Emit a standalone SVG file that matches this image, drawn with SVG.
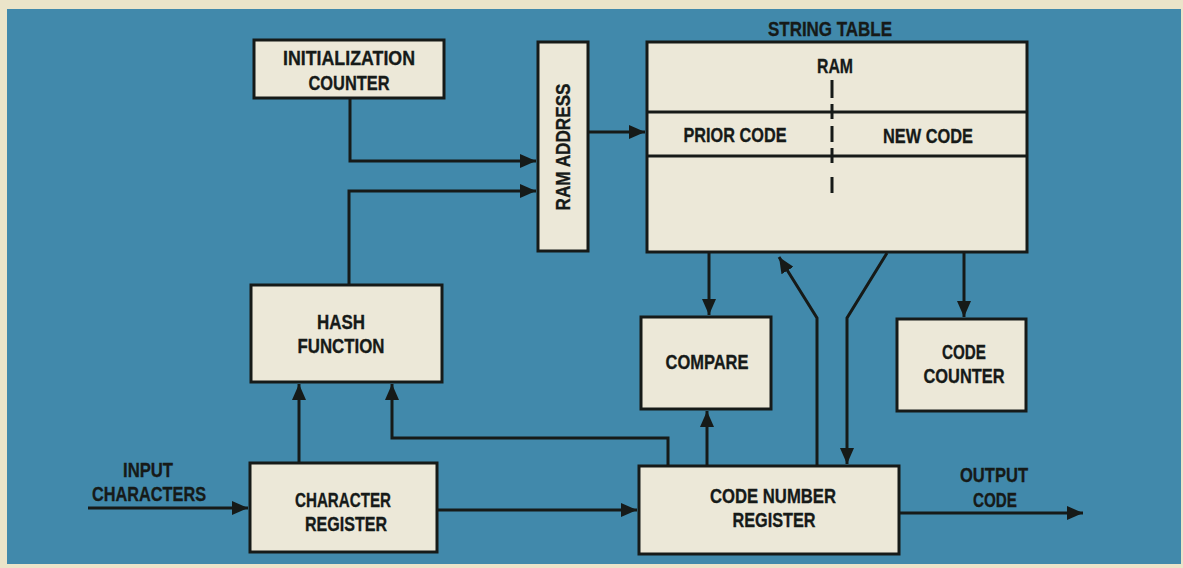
<svg xmlns="http://www.w3.org/2000/svg" width="1183" height="568" viewBox="0 0 1183 568">
  <style>
    .box { fill: #ece8d8; stroke: #161a18; stroke-width: 3; }
    .ln { fill: none; stroke: #161a18; stroke-width: 3; }
    .t { font-family: "Liberation Sans Narrow", "Liberation Sans", Arial, sans-serif; font-weight: bold; font-size: 21px; fill: #161a18; stroke: #161a18; stroke-width: 0.35; text-anchor: middle; }
  </style>
  <defs>
    <marker id="ah" viewBox="0 0 16 14" refX="16" refY="7" markerWidth="16" markerHeight="14" markerUnits="userSpaceOnUse" orient="auto">
      <path d="M0,0 L16,7 L0,14 Z" fill="#161a18"/>
    </marker>
  </defs>
  <rect x="0" y="0" width="1183" height="568" fill="#ebe4c9"/>
  <rect x="7" y="9" width="1174" height="555" fill="#4189ab"/>

  <g id="connectors">
    <polyline class="ln" points="350,98 350,161 536,161" marker-end="url(#ah)"/>
    <polyline class="ln" points="349,285 349,191 536,191" marker-end="url(#ah)"/>
    <line class="ln" x1="589" y1="132" x2="645" y2="132" marker-end="url(#ah)"/>
    <line class="ln" x1="299" y1="463" x2="299" y2="384" marker-end="url(#ah)"/>
    <polyline class="ln" points="668,466 668,438 392,438 392,384" marker-end="url(#ah)"/>
    <line class="ln" x1="88" y1="508" x2="248" y2="508" marker-end="url(#ah)"/>
    <line class="ln" x1="437" y1="510" x2="637" y2="510" marker-end="url(#ah)"/>
    <line class="ln" x1="709" y1="252" x2="709" y2="315" marker-end="url(#ah)"/>
    <line class="ln" x1="707" y1="466" x2="707" y2="411" marker-end="url(#ah)"/>
    <polyline class="ln" points="817,466 817,318 779,257" marker-end="url(#ah)"/>
    <polyline class="ln" points="887,253 847,318 847,464" marker-end="url(#ah)"/>
    <line class="ln" x1="964" y1="252" x2="964" y2="317" marker-end="url(#ah)"/>
    <line class="ln" x1="899" y1="513" x2="1083" y2="513" marker-end="url(#ah)"/>
  </g>

  <g id="init-counter">
    <rect class="box" x="254" y="40" width="190" height="58"/>
    <text class="t" x="349" y="65" textLength="132" lengthAdjust="spacingAndGlyphs">INITIALIZATION</text>
    <text class="t" x="349" y="90" textLength="81" lengthAdjust="spacingAndGlyphs">COUNTER</text>
  </g>

  <g id="ram-address">
    <rect class="box" x="538" y="42" width="50" height="209"/>
    <text class="t" transform="translate(570,147) rotate(-90)" x="0" y="0" textLength="127" lengthAdjust="spacingAndGlyphs">RAM ADDRESS</text>
  </g>

  <g id="string-table">
    <text class="t" x="830" y="36" textLength="124" lengthAdjust="spacingAndGlyphs">STRING TABLE</text>
    <rect class="box" x="647" y="42" width="380" height="210"/>
    <line class="ln" x1="647" y1="112" x2="1027" y2="112"/>
    <line class="ln" x1="647" y1="156" x2="1027" y2="156"/>
    <path class="ln" d="M832,80 V98 M832,104 V119 M832,126 V142 M832,148 V163 M832,177 V193"/>
    <text class="t" x="835" y="73" textLength="36" lengthAdjust="spacingAndGlyphs">RAM</text>
    <text class="t" x="735" y="142" textLength="103" lengthAdjust="spacingAndGlyphs">PRIOR CODE</text>
    <text class="t" x="928" y="143" textLength="90" lengthAdjust="spacingAndGlyphs">NEW CODE</text>
  </g>

  <g id="hash-function">
    <rect class="box" x="251" y="285" width="191" height="97"/>
    <text class="t" x="341" y="329" textLength="48" lengthAdjust="spacingAndGlyphs">HASH</text>
    <text class="t" x="341" y="353" textLength="87" lengthAdjust="spacingAndGlyphs">FUNCTION</text>
  </g>

  <g id="character-register">
    <rect class="box" x="250" y="463" width="187" height="89"/>
    <text class="t" x="343" y="507" textLength="96" lengthAdjust="spacingAndGlyphs">CHARACTER</text>
    <text class="t" x="346" y="531" textLength="82" lengthAdjust="spacingAndGlyphs">REGISTER</text>
  </g>

  <g id="input-label">
    <text class="t" x="148" y="477" textLength="50" lengthAdjust="spacingAndGlyphs">INPUT</text>
    <text class="t" x="149" y="501" textLength="114" lengthAdjust="spacingAndGlyphs">CHARACTERS</text>
  </g>

  <g id="compare">
    <rect class="box" x="641" y="317" width="130" height="92"/>
    <text class="t" x="707" y="369" textLength="83" lengthAdjust="spacingAndGlyphs">COMPARE</text>
  </g>

  <g id="code-counter">
    <rect class="box" x="897" y="319" width="129" height="92"/>
    <text class="t" x="964" y="359" textLength="44" lengthAdjust="spacingAndGlyphs">CODE</text>
    <text class="t" x="964" y="383" textLength="81" lengthAdjust="spacingAndGlyphs">COUNTER</text>
  </g>

  <g id="code-number-register">
    <rect class="box" x="639" y="466" width="260" height="88"/>
    <text class="t" x="773" y="503" textLength="126" lengthAdjust="spacingAndGlyphs">CODE NUMBER</text>
    <text class="t" x="774" y="527" textLength="83" lengthAdjust="spacingAndGlyphs">REGISTER</text>
  </g>

  <g id="output-label">
    <text class="t" x="994" y="482" textLength="68" lengthAdjust="spacingAndGlyphs">OUTPUT</text>
    <text class="t" x="995" y="507" textLength="44" lengthAdjust="spacingAndGlyphs">CODE</text>
  </g>
</svg>
